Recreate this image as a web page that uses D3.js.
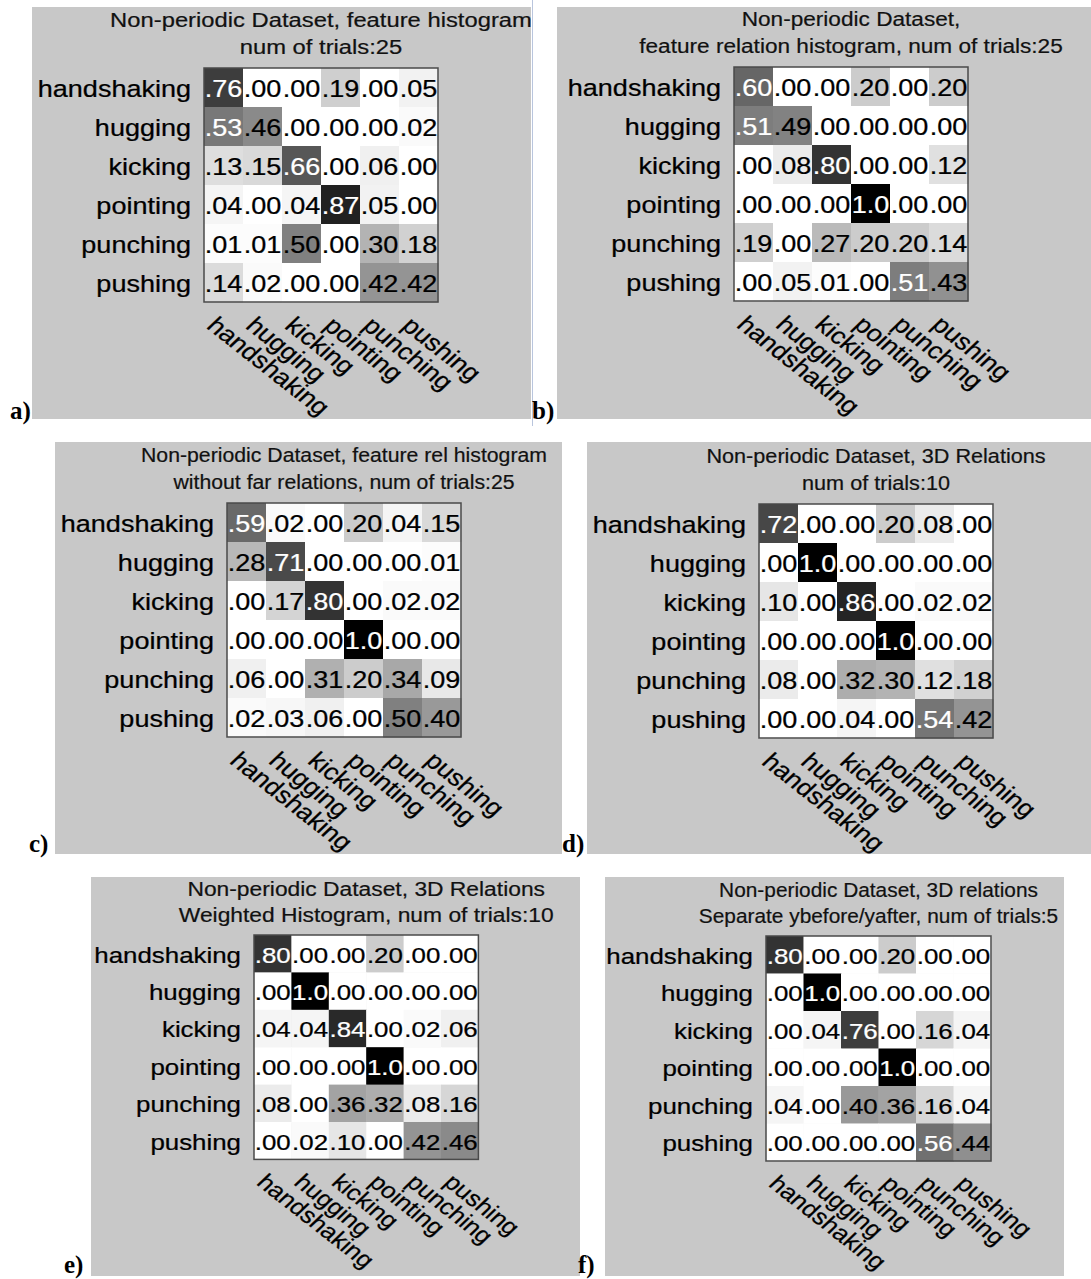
<!DOCTYPE html>
<html>
<head>
<meta charset="utf-8">
<script src="https://cdn.jsdelivr.net/npm/d3@7"></script>
<style>
  html, body { margin: 0; padding: 0; background: #ffffff; }
  svg { display: block; }
</style>
</head>
<body>
<svg id="fig" width="1091" height="1279"></svg>
<script>
// Action classes (rows = true class, columns = predicted class)
const categories = ["handshaking", "hugging", "kicking", "pointing", "punching", "pushing"];

// Confusion matrices, one per experiment
const matA = [
  [0.76, 0.00, 0.00, 0.19, 0.00, 0.05],
  [0.53, 0.46, 0.00, 0.00, 0.00, 0.02],
  [0.13, 0.15, 0.66, 0.00, 0.06, 0.00],
  [0.04, 0.00, 0.04, 0.87, 0.05, 0.00],
  [0.01, 0.01, 0.50, 0.00, 0.30, 0.18],
  [0.14, 0.02, 0.00, 0.00, 0.42, 0.42]
];
const matB = [
  [0.60, 0.00, 0.00, 0.20, 0.00, 0.20],
  [0.51, 0.49, 0.00, 0.00, 0.00, 0.00],
  [0.00, 0.08, 0.80, 0.00, 0.00, 0.12],
  [0.00, 0.00, 0.00, 1.00, 0.00, 0.00],
  [0.19, 0.00, 0.27, 0.20, 0.20, 0.14],
  [0.00, 0.05, 0.01, 0.00, 0.51, 0.43]
];
const matC = [
  [0.59, 0.02, 0.00, 0.20, 0.04, 0.15],
  [0.28, 0.71, 0.00, 0.00, 0.00, 0.01],
  [0.00, 0.17, 0.80, 0.00, 0.02, 0.02],
  [0.00, 0.00, 0.00, 1.00, 0.00, 0.00],
  [0.06, 0.00, 0.31, 0.20, 0.34, 0.09],
  [0.02, 0.03, 0.06, 0.00, 0.50, 0.40]
];
const matD = [
  [0.72, 0.00, 0.00, 0.20, 0.08, 0.00],
  [0.00, 1.00, 0.00, 0.00, 0.00, 0.00],
  [0.10, 0.00, 0.86, 0.00, 0.02, 0.02],
  [0.00, 0.00, 0.00, 1.00, 0.00, 0.00],
  [0.08, 0.00, 0.32, 0.30, 0.12, 0.18],
  [0.00, 0.00, 0.04, 0.00, 0.54, 0.42]
];
const matE = [
  [0.80, 0.00, 0.00, 0.20, 0.00, 0.00],
  [0.00, 1.00, 0.00, 0.00, 0.00, 0.00],
  [0.04, 0.04, 0.84, 0.00, 0.02, 0.06],
  [0.00, 0.00, 0.00, 1.00, 0.00, 0.00],
  [0.08, 0.00, 0.36, 0.32, 0.08, 0.16],
  [0.00, 0.02, 0.10, 0.00, 0.42, 0.46]
];
const matF = [
  [0.80, 0.00, 0.00, 0.20, 0.00, 0.00],
  [0.00, 1.00, 0.00, 0.00, 0.00, 0.00],
  [0.00, 0.04, 0.76, 0.00, 0.16, 0.04],
  [0.00, 0.00, 0.00, 1.00, 0.00, 0.00],
  [0.04, 0.00, 0.40, 0.36, 0.16, 0.04],
  [0.00, 0.00, 0.00, 0.00, 0.56, 0.44]
];

// Panel titles (two lines each)
const titleA = ["Non-periodic Dataset, feature histogram", "num of trials:25"];
const titleB = ["Non-periodic Dataset,", "feature relation histogram, num of trials:25"];
const titleC = ["Non-periodic Dataset, feature rel histogram", "without far relations, num of trials:25"];
const titleD = ["Non-periodic Dataset, 3D Relations", "num of trials:10"];
const titleE = ["Non-periodic Dataset, 3D Relations", "Weighted Histogram, num of trials:10"];
const titleF = ["Non-periodic Dataset, 3D relations", "Separate ybefore/yafter, num of trials:5"];

const tags = ["a)", "b)", "c)", "d)", "e)", "f)"];

// Page layout: background box, matrix origin, cell size, font sizes
const panels = [
  { data: matA, title: titleA, tag: tags[0], bg: [32, 7, 531, 419],     origin: [204, 68],  cell: 39,   fs: 23.5, tsx: 1.22, tagPos: [10, 419] },
  { data: matB, title: titleB, tag: tags[1], bg: [557, 7, 1091, 419],   origin: [734, 67],  cell: 39,   fs: 23.5, tsx: 1.16, tagPos: [532, 419] },
  { data: matC, title: titleC, tag: tags[2], bg: [55, 442, 562, 854],   origin: [227, 503], cell: 39,   fs: 23.5, tsx: 1.09, tagPos: [29, 852] },
  { data: matD, title: titleD, tag: tags[3], bg: [587, 442, 1091, 854], origin: [759, 504], cell: 39,   fs: 23.5, tsx: 1.11, tagPos: [562, 852] },
  { data: matE, title: titleE, tag: tags[4], bg: [91, 877, 580, 1276],  origin: [254, 935], cell: 37.4, fs: 22.5, tsx: 1.17, tagPos: [64, 1273] },
  { data: matF, title: titleF, tag: tags[5], bg: [605, 877, 1064, 1276],origin: [766, 936], cell: 37.5, fs: 22.5, tsx: 1.07, tagPos: [578, 1273] }
];

const FONT = "'Liberation Sans', Arial, Helvetica, sans-serif";
const LSX = 1.15;           // horizontal stretch of the label glyphs
const TITLE_FS = 19.5;
const INK = 0.25;           // outline width that thickens the glyph strokes

const svg = d3.select("#fig");
const grey = d3.scaleLinear().domain([0, 1]).range(["#ffffff", "#000000"]);
const fmt = v => v >= 1 ? "1.0" : "." + String(Math.round(v * 100)).padStart(2, "0");

// thin separator line between the two top panels
svg.append("line").attr("x1", 532.5).attr("x2", 532.5).attr("y1", 0).attr("y2", 426)
  .attr("stroke", "#b9c5dd").attr("stroke-width", 1);

panels.forEach(p => {
  const g = svg.append("g").attr("font-family", FONT);
  const [x0, y0, x1, y1] = p.bg;
  g.append("rect").attr("x", x0).attr("y", y0).attr("width", x1 - x0).attr("height", y1 - y0)
    .attr("fill", "#c8c8c8");

  const [mx, my] = p.origin;
  const n = categories.length;
  const k = p.cell / 39;
  const x = d3.scaleBand().domain(categories).range([mx, mx + n * p.cell]);
  const y = d3.scaleBand().domain(categories).range([my, my + n * p.cell]);

  const cells = p.data.flatMap((row, i) => row.map((v, j) => ({ r: categories[i], c: categories[j], v })));

  g.selectAll("rect.cell").data(cells).join("rect").attr("class", "cell")
    .attr("x", d => x(d.c)).attr("y", d => y(d.r))
    .attr("width", x.bandwidth() + 0.4).attr("height", y.bandwidth() + 0.4)
    .attr("fill", d => grey(d.v));

  g.append("rect").attr("x", mx).attr("y", my).attr("width", n * p.cell).attr("height", n * p.cell)
    .attr("fill", "none").attr("stroke", "#4a4a4a").attr("stroke-width", 1.5);

  g.selectAll("text.val").data(cells).join("text").attr("class", "val")
    .attr("transform", d => `translate(${x(d.c) + x.bandwidth() / 2},${y(d.r) + y.bandwidth() / 2 + 9.3 * k}) scale(${LSX},1)`)
    .attr("text-anchor", "middle").attr("font-size", p.fs)
    .attr("fill", d => d.v > 0.5 ? "#ffffff" : "#000000")
    .attr("stroke", d => d.v > 0.5 ? "#ffffff" : "#000000").attr("stroke-width", INK)
    .text(d => fmt(d.v));

  // row labels
  const ay = g.append("g").attr("transform", `translate(${mx},0)`)
    .call(d3.axisLeft(y).tickSize(0).tickPadding(0));
  ay.attr("font-family", FONT).attr("font-size", p.fs);
  ay.select(".domain").remove();
  ay.selectAll("text").attr("x", 0).attr("dy", null)
    .attr("transform", `translate(${-13},${9.3 * k}) scale(${LSX},1)`)
    .attr("text-anchor", "end").attr("fill", "#000000")
    .attr("stroke", "#000000").attr("stroke-width", INK);

  // column labels, slanted
  const ax = g.append("g").attr("transform", `translate(0,${my + n * p.cell})`)
    .call(d3.axisBottom(x).tickSize(0).tickPadding(0));
  ax.attr("font-family", FONT).attr("font-size", p.fs);
  ax.select(".domain").remove();
  ax.selectAll("text").attr("y", 0).attr("dy", "0.72em")
    .attr("transform", `translate(${-5 * k},${13 * k}) scale(${LSX},1) rotate(42)`)
    .attr("text-anchor", "start").attr("fill", "#000000")
    .attr("stroke", "#000000").attr("stroke-width", INK);

  // title
  const cx = mx + n * p.cell / 2;
  p.title.forEach((line, i) => {
    g.append("text")
      .attr("transform", `translate(${cx},${my - (i === 0 ? 41 : 14) * k}) scale(${p.tsx},1)`)
      .attr("text-anchor", "middle").attr("font-size", TITLE_FS).attr("fill", "#111111")
      .attr("stroke", "#111111").attr("stroke-width", 0.2)
      .text(line);
  });

  // panel tag
  svg.append("text").attr("x", p.tagPos[0]).attr("y", p.tagPos[1])
    .attr("font-family", "'Liberation Serif', 'Times New Roman', serif")
    .attr("font-weight", "bold").attr("font-size", 25).attr("fill", "#000000")
    .text(p.tag);
});
</script>
</body>
</html>
